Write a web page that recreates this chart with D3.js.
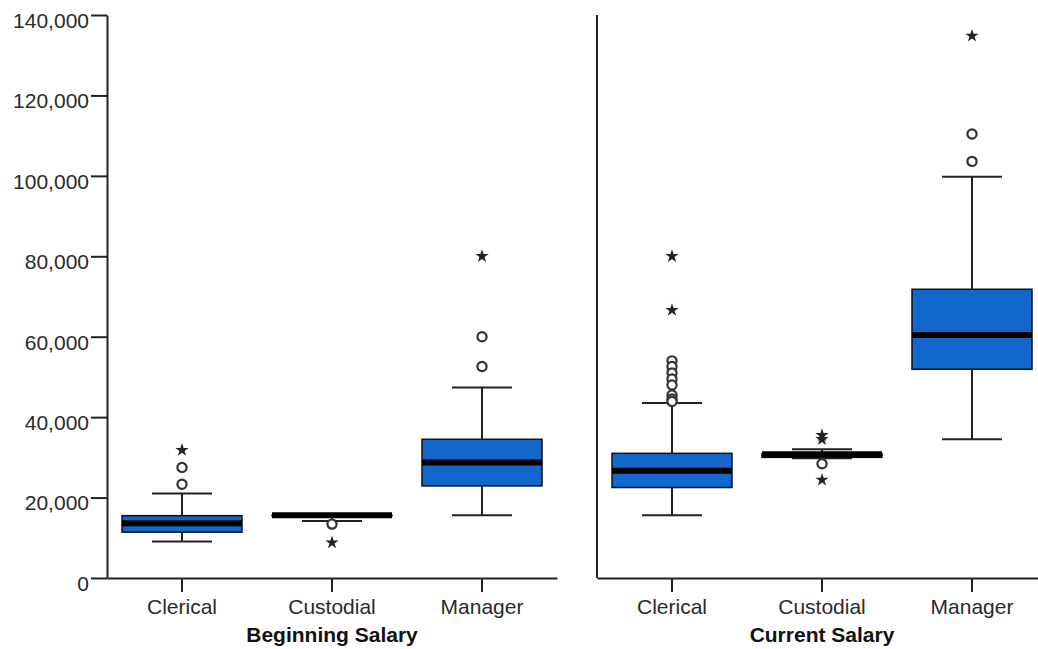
<!DOCTYPE html>
<html>
<head>
<meta charset="utf-8">
<script src="https://cdn.jsdelivr.net/npm/d3@7"></script>
<style>
  html, body { margin: 0; padding: 0; background: #fff; }
  svg { display: block; }
  text { font-family: "Liberation Sans", Arial, sans-serif; }
</style>
</head>
<body>
<svg id="chart" width="1038" height="649"></svg>
<script>
// ---- data ----
const categories = ["Clerical", "Custodial", "Manager"];
const panelTitles = ["Beginning Salary", "Current Salary"];
const yTicks = [0, 20000, 40000, 60000, 80000, 100000, 120000, 140000];

// Beginning Salary
const beginQ1 = [11400, 15600, 22900];
const beginMedian = [13600, 15600, 28700];
const beginQ3 = [15500, 15600, 34500];
const beginLow = [9100, 14200, 15600];
const beginHigh = [21000, 15600, 47400];
const beginOutliers = [[27500, 23300], [13400], [60000, 52600]];
const beginExtremes = [[31800], [8800], [80000]];

// Current Salary
const currQ1 = [22500, 30000, 51900];
const currMedian = [26700, 30750, 60400];
const currQ3 = [31000, 30900, 71800];
const currLow = [15600, 29800, 34500];
const currHigh = [43500, 32000, 99800];
const currOutliers = [[54000, 52600, 51000, 49500, 48000, 45500, 44500, 43900], [28400], [110400, 103600]];
const currExtremes = [[80000, 66600], [35500, 34500, 24400], [134800]];

// ---- build ----
function buildRows(q1, med, q3, lo, hi, outl, ext) {
  return categories.map((c, i) => ({
    cat: c, q1: q1[i], med: med[i], q3: q3[i], lo: lo[i], hi: hi[i],
    outliers: outl[i], extremes: ext[i]
  }));
}
const panels = [
  { title: panelTitles[0], rows: buildRows(beginQ1, beginMedian, beginQ3, beginLow, beginHigh, beginOutliers, beginExtremes), x0: 107, x1: 557, yAxis: true },
  { title: panelTitles[1], rows: buildRows(currQ1, currMedian, currQ3, currLow, currHigh, currOutliers, currExtremes), x0: 597, x1: 1047, yAxis: false }
];

const svg = d3.select("#chart");
const ink = "#222";
const textInk = "#2a2a2a";
const boxFill = "#1167cc";
const y = d3.scaleLinear().domain([0, 140000]).range([578, 15]);

panels.forEach(p => {
  const x = d3.scaleBand().domain(categories).range([p.x0, p.x1]).paddingInner(0.2).paddingOuter(0.1);
  const g = svg.append("g");

  // y axis
  if (p.yAxis) {
    const ya = g.append("g").attr("transform", `translate(${p.x0},0)`)
      .call(d3.axisLeft(y).tickValues(yTicks).tickFormat(d3.format(",")).tickSize(16).tickSizeOuter(0).tickPadding(2));
    ya.select(".domain").attr("stroke", ink).attr("stroke-width", 2);
    ya.selectAll(".tick line").attr("stroke", ink).attr("stroke-width", 2);
    ya.selectAll(".tick text").attr("fill", textInk).style("font-size", "21px")
      .style("font-family", "'Liberation Sans', Arial, sans-serif").attr("dy", "0.78em").attr("y", -4);
  } else {
    g.append("line").attr("x1", p.x0).attr("x2", p.x0).attr("y1", y(140000)).attr("y2", y(0))
      .attr("stroke", ink).attr("stroke-width", 2);
  }

  // x axis
  const xa = g.append("g").attr("transform", `translate(0,${y(0)})`)
    .call(d3.axisBottom(x).tickSize(14).tickSizeOuter(0).tickPadding(7));
  xa.select(".domain").attr("stroke", ink).attr("stroke-width", 2);
  xa.selectAll(".tick line").attr("stroke", ink).attr("stroke-width", 2);
  xa.selectAll(".tick text").attr("fill", textInk).style("font-size", "21px")
    .style("font-family", "'Liberation Sans', Arial, sans-serif");

  // title
  g.append("text").attr("x", (p.x0 + p.x1) / 2).attr("y", 642).attr("text-anchor", "middle")
    .attr("fill", "#111").style("font-size", "21px").style("font-weight", "bold").text(p.title);

  const bw = x.bandwidth();
  const box = g.selectAll("g.box").data(p.rows).enter().append("g").attr("class", "box")
    .attr("transform", d => `translate(${x(d.cat) + bw / 2},0)`);

  // whiskers
  box.append("line").attr("x1", 0).attr("x2", 0).attr("y1", d => y(d.hi)).attr("y2", d => y(d.q3))
    .attr("stroke", ink).attr("stroke-width", 2);
  box.append("line").attr("x1", 0).attr("x2", 0).attr("y1", d => y(d.q1)).attr("y2", d => y(d.lo))
    .attr("stroke", ink).attr("stroke-width", 2);
  box.append("line").attr("x1", -bw / 4).attr("x2", bw / 4).attr("y1", d => y(d.hi)).attr("y2", d => y(d.hi))
    .attr("stroke", ink).attr("stroke-width", 2);
  box.append("line").attr("x1", -bw / 4).attr("x2", bw / 4).attr("y1", d => y(d.lo)).attr("y2", d => y(d.lo))
    .attr("stroke", ink).attr("stroke-width", 2);

  // box
  box.append("rect").attr("x", -bw / 2).attr("width", bw)
    .attr("y", d => y(d.q3)).attr("height", d => Math.max(0.5, y(d.q1) - y(d.q3)))
    .attr("fill", boxFill).attr("stroke", "#111").attr("stroke-width", 1.5);
  // median
  box.append("line").attr("x1", -bw / 2).attr("x2", bw / 2).attr("y1", d => y(d.med)).attr("y2", d => y(d.med))
    .attr("stroke", "#000").attr("stroke-width", 6);

  // outliers (circles)
  box.selectAll("circle.out").data(d => d.outliers).enter().append("circle").attr("class", "out")
    .attr("cx", 0).attr("cy", v => y(v)).attr("r", 4.6)
    .attr("fill", "#fff").attr("stroke", "#333").attr("stroke-width", 2.2);

  // extremes (stars)
  const star = d3.symbol().type(d3.symbolStar).size(55);
  box.selectAll("path.ext").data(d => d.extremes).enter().append("path").attr("class", "ext")
    .attr("d", star).attr("transform", v => `translate(0,${y(v)})`).attr("fill", "#222");
});
</script>
</body>
</html>
